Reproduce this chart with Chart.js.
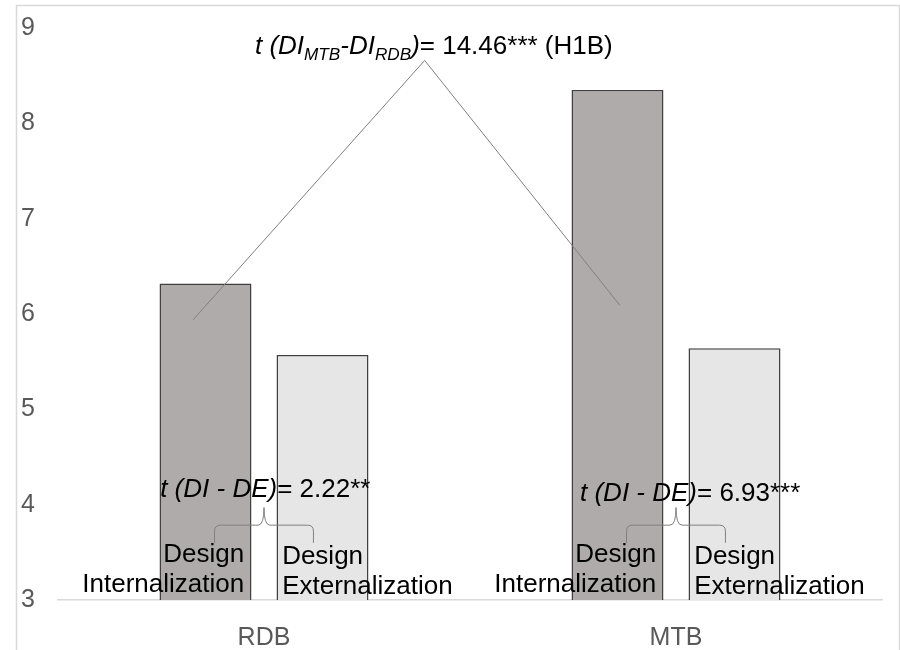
<!DOCTYPE html>
<html>
<head>
<meta charset="utf-8">
<script src="https://cdn.jsdelivr.net/npm/chart.js@4"></script>
<style>
  body { margin: 0; background: #fff; }
  #wrap { width: 900px; height: 650px; }
</style>
</head>
<body>
<div id="wrap"><canvas id="myChart" width="900" height="650"></canvas></div>
<script>
const categories = ["RDB", "MTB"];
const internalization = [6.32, 8.35];
const externalization = [5.57, 5.64];
const yMin = 3;
const yMax = 9;

// annotation anchors in data units (x = category index, y = value)
const hypoLine = [[-0.172, 5.94], [0.39, 8.66], [0.864, 6.09]];
const braceX = [-0.12, 0, 0.12];
const braceY = [3.6, 3.785, 3.97];
const tLabelPos = [[-0.252, 4.18], [-0.233, 4.13]];
const tValues = ["= 2.22**", "= 6.93***"];
const topLabelPos = [-0.022, 8.82];
const diLabelX = -0.048;
const deLabelX = 0.044;
const labelLinesY = [3.47, 3.16];

const FONT = "'Liberation Sans', Arial, sans-serif";

const drawRich = (c, x, y, segs, size) => {
  let cx = x;
  segs.forEach(s => {
    const fs = s.sub ? size * 0.66 : size;
    c.font = (s.italic ? "italic " : "") + fs + "px " + FONT;
    c.textBaseline = "alphabetic";
    c.textAlign = "left";
    c.fillText(s.t, cx, y + (s.sub ? size * 0.22 : 0));
    cx += c.measureText(s.t).width;
  });
};

const overlay = {
  id: "overlay",
  beforeDraw(chart) {
    const c = chart.ctx;
    c.save();
    c.fillStyle = "#fff";
    c.fillRect(0, 0, chart.width, chart.height);
    c.strokeStyle = "#d9d9d9";
    c.lineWidth = 1.5;
    c.strokeRect(16.5, 5.5, 883, 700);
    c.restore();
  },
  afterDatasetsDraw(chart) {
    const c = chart.ctx;
    const xs = chart.scales.x, ys = chart.scales.y;
    const px = (i, v) => [xs.getPixelForValue(i), ys.getPixelForValue(v)];
    c.save();

    // hypothesis line between the DI bars
    c.strokeStyle = "#808080";
    c.lineWidth = 1;
    c.beginPath();
    hypoLine.forEach((p, k) => {
      const [X, Y] = px(p[0], p[1]);
      if (k === 0) c.moveTo(X, Y); else c.lineTo(X, Y);
    });
    c.stroke();

    c.fillStyle = "#000";
    const size = 26;
    const [tx, ty] = px(topLabelPos[0], topLabelPos[1]);
    drawRich(c, tx, ty + 9, [
      { t: "t (DI", italic: true },
      { t: "MTB", italic: true, sub: true },
      { t: "-DI", italic: true },
      { t: "RDB", italic: true, sub: true },
      { t: ")", italic: true },
      { t: "= 14.46*** (H1B)" }
    ], size);

    categories.forEach((cat, i) => {
      // curly brace
      const [lx, by] = px(i + braceX[0], braceY[0]);
      const [mx, hy] = px(i + braceX[1], braceY[1]);
      const [rx, tipY] = px(i + braceX[2], braceY[2]);
      const r = 6;
      c.strokeStyle = "#808080";
      c.lineWidth = 1;
      c.beginPath();
      c.moveTo(lx, by);
      c.lineTo(lx, hy + r);
      c.quadraticCurveTo(lx, hy, lx + r, hy);
      c.lineTo(mx - r, hy);
      c.quadraticCurveTo(mx, hy, mx, tipY);
      c.quadraticCurveTo(mx, hy, mx + r, hy);
      c.lineTo(rx - r, hy);
      c.quadraticCurveTo(rx, hy, rx, hy + r);
      c.lineTo(rx, by);
      c.stroke();

      // t test label
      const [lx2, ly2] = px(i + tLabelPos[i][0], tLabelPos[i][1]);
      drawRich(c, lx2, ly2 + 9, [
        { t: "t (DI - DE)", italic: true },
        { t: tValues[i] }
      ], size);

      // series names
      c.font = size + "px " + FONT;
      c.textBaseline = "middle";
      const diX = xs.getPixelForValue(i + diLabelX);
      const deX = xs.getPixelForValue(i + deLabelX);
      const y1 = ys.getPixelForValue(labelLinesY[0]);
      const y2 = ys.getPixelForValue(labelLinesY[1]);
      c.textAlign = "right";
      c.fillText("Design", diX, y1);
      c.fillText("Internalization", diX, y2);
      c.textAlign = "left";
      c.fillText("Design", deX, y1 + 2);
      c.fillText("Externalization", deX, y2 + 2);
    });
    c.restore();
  }
};

new Chart(document.getElementById("myChart").getContext("2d"), {
  type: "bar",
  data: {
    labels: categories,
    datasets: [
      {
        label: "Design Internalization",
        data: internalization,
        backgroundColor: "#afabab",
        borderColor: "#404040",
        borderWidth: 1.5,
        categoryPercentage: 0.568,
        barPercentage: 0.786
      },
      {
        label: "Design Externalization",
        data: externalization,
        backgroundColor: "#e7e6e6",
        borderColor: "#404040",
        borderWidth: 1.5,
        categoryPercentage: 0.568,
        barPercentage: 0.786
      }
    ]
  },
  options: {
    responsive: false,
    animation: false,
    layout: { padding: { left: 21, right: 18, top: 28, bottom: 0 } },
    plugins: { legend: { display: false }, tooltip: { enabled: false } },
    scales: {
      x: {
        grid: { display: false },
        border: { display: true, color: "#d9d9d9", width: 1.5 },
        ticks: { color: "#595959", font: { size: 25, family: FONT }, padding: 15 },
        afterFit: s => { s.height = 50; }
      },
      y: {
        min: yMin,
        max: yMax,
        grid: { display: false, drawTicks: false },
        border: { display: false },
        ticks: { stepSize: 1, color: "#595959", font: { size: 25, family: FONT }, padding: 0, crossAlign: "far" },
        afterFit: s => { s.width = 37; }
      }
    }
  },
  plugins: [overlay]
});
</script>
</body>
</html>
